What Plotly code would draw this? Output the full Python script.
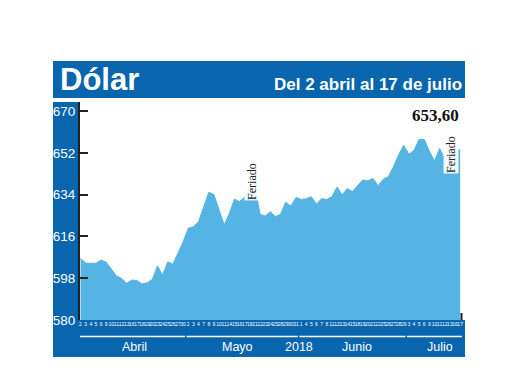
import plotly.graph_objects as go

# ---------------- data ----------------
days_apr = [2, 3, 4, 5, 6, 9, 10, 11, 12, 13, 16, 17, 18, 19, 20, 23, 24, 25, 26, 27, 30]
days_may = [2, 3, 4, 7, 8, 9, 10, 11, 14, 15, 16, 17, 18, 21, 22, 23, 24, 25, 28, 29, 30, 31]
days_jun = [1, 4, 5, 6, 7, 8, 11, 12, 13, 14, 15, 18, 19, 20, 21, 22, 25, 26, 27, 28, 29]
days_jul = [3, 4, 5, 6, 9, 10, 11, 12, 13, 16, 17]
month_names = ["Abril", "Mayo", "Junio", "Julio"]
year_label = "2018"

dolar = [
    606.6, 604.5, 604.4, 604.4, 605.8, 604.9, 602.0, 599.0, 597.9, 595.8,
    597.2, 597.0, 595.5, 596.0, 597.5, 603.3, 599.4, 605.1, 604.0, 609.0,
    613.7, 619.5, 620.2, 622.3, 629.0, 635.0, 634.0, 627.5, 621.0, 625.9,
    632.0, 631.0, 633.0, 637.3, 637.6, 625.5, 624.8, 626.6, 624.5, 625.6,
    630.7, 629.1, 632.8, 631.9, 632.2, 633.1, 629.9, 632.3, 631.9, 633.1,
    637.3, 633.9, 636.6, 635.3, 638.0, 640.3, 639.9, 641.0, 637.8, 640.6,
    641.7, 646.0, 651.1, 655.3, 651.4, 653.0, 657.8, 657.8, 652.8, 648.5,
    653.9, 649.2, 651.8, 651.8, 653.6,
]
holidays = [("Mayo", 21), ("Julio", 16)]
y_ticks = [580, 598, 616, 634, 652, 670]
last_label = "653,60"
title = "Dólar"
subtitle = "Del 2 abril al 17 de julio"
holiday_text = "Feriado"

# ---------------- derived ----------------
month_days = [days_apr, days_may, days_jun, days_jul]
x_idx, tick_text, month_ranges = [], [], []
i = 0
for name, days in zip(month_names, month_days):
    start = i
    for d in days:
        x_idx.append(i)
        tick_text.append(str(d))
        i += 1
    month_ranges.append((name, start, i - 1))

def day_index(month, day):
    m = month_names.index(month)
    return month_ranges[m][1] + month_days[m].index(day)

# ---------------- layout geometry (screen pixels; page has 8px body margin) ----------------
OFF = 8
W, H = 512, 382
L, R, T, B = 80, 462, 102, 320          # plot area in screen coords
PW, PH = R - L, B - T

def px(x):
    return (x - L) / PW

def py(y):
    return (B - y) / PH

DARK = "#0865ae"
LIGHT = "#56b4e4"

fig = go.Figure()
fig.add_trace(go.Scatter(
    x=x_idx, y=dolar, mode="lines", fill="tozeroy",
    line=dict(color=LIGHT, width=1), fillcolor=LIGHT,
    hoverinfo="skip", showlegend=False,
))

shapes = [
    dict(type="rect", xref="paper", yref="paper", x0=px(53), x1=px(465), y0=py(98), y1=py(61),
         fillcolor=DARK, line=dict(width=0), layer="below"),
    dict(type="rect", xref="paper", yref="paper", x0=px(53), x1=px(79.5), y0=py(357), y1=py(102),
         fillcolor=DARK, line=dict(width=0), layer="below"),
    dict(type="rect", xref="paper", yref="paper", x0=px(53), x1=px(465), y0=py(357), y1=py(320),
         fillcolor=DARK, line=dict(width=0), layer="below"),
    dict(type="line", xref="paper", yref="paper", x0=px(461.5), x1=px(461.5), y0=py(320), y1=py(313),
         line=dict(color="#222", width=2)),
]
for name, s, e in month_ranges:
    shapes.append(dict(type="line", xref="x", yref="paper", x0=s - 0.35, x1=e + 0.35,
                       y0=py(336.5), y1=py(336.5), line=dict(color="white", width=1.5)))

annotations = [
    dict(text=f"<b>{title}</b>", xref="paper", yref="paper", x=px(58), y=py(79),
         xanchor="left", yanchor="middle", showarrow=False,
         font=dict(family="Liberation Sans", size=31, color="white")),
    dict(text=f"<b>{subtitle}</b>", xref="paper", yref="paper", x=px(464), y=py(84),
         xanchor="right", yanchor="middle", showarrow=False,
         font=dict(family="Liberation Sans", size=17, color="white")),
    dict(text=f"<b>{last_label}</b>", xref="paper", yref="paper", x=px(461), y=py(115.5),
         xanchor="right", yanchor="middle", showarrow=False,
         font=dict(family="Liberation Serif", size=17, color="#111")),
]
hol_y = [181, 155]
hol_shift = [-3, -4]
for (m, d), yy, sh in zip(holidays, hol_y, hol_shift):
    annotations.append(dict(text=holiday_text, xref="x", yref="paper", x=day_index(m, d), y=py(yy),
                            xshift=sh, textangle=-90, showarrow=False,
                            bgcolor="rgba(255,255,255,0.9)",
                            borderpad=0, xanchor="center", yanchor="middle",
                            font=dict(family="Liberation Serif", size=12, color="#222")))
label_shift = {"Abril": 3, "Mayo": -5, "Junio": 5, "Julio": 5}
for name, s, e in month_ranges:
    annotations.append(dict(text=name, xref="x", yref="paper", x=(s + e) / 2, y=py(347),
                            xshift=label_shift[name], showarrow=False, xanchor="center", yanchor="middle",
                            font=dict(family="Liberation Sans", size=12.5, color="white")))
annotations.append(dict(text=year_label, xref="x", yref="paper",
                        x=(month_ranges[1][2] + month_ranges[2][1]) / 2, y=py(347),
                        showarrow=False, xanchor="center", yanchor="middle",
                        font=dict(family="Liberation Sans", size=12.5, color="white")))

fig.update_layout(
    width=W, height=H,
    margin=dict(l=L - OFF, r=W - (R - OFF), t=T - OFF, b=H - (B - OFF), pad=0),
    paper_bgcolor="white", plot_bgcolor="white",
    shapes=shapes, annotations=annotations,
    xaxis=dict(range=[-0.1, 74.36], tickmode="array", tickvals=x_idx, ticktext=tick_text,
               tickangle=0, ticks="", showgrid=False, zeroline=False, showline=False,
               tickfont=dict(family="Liberation Sans", size=5, color="white")),
    yaxis=dict(range=[580, 580 + PH / 2.322], tickmode="array", tickvals=y_ticks,
               ticks="inside", ticklen=8, tickwidth=2, tickcolor="#222",
               showline=True, linecolor="#222", linewidth=2, showgrid=False, zeroline=False,
               tickfont=dict(family="Liberation Sans", size=13.5, color="white")),
)
fig.write_html("out.html")
